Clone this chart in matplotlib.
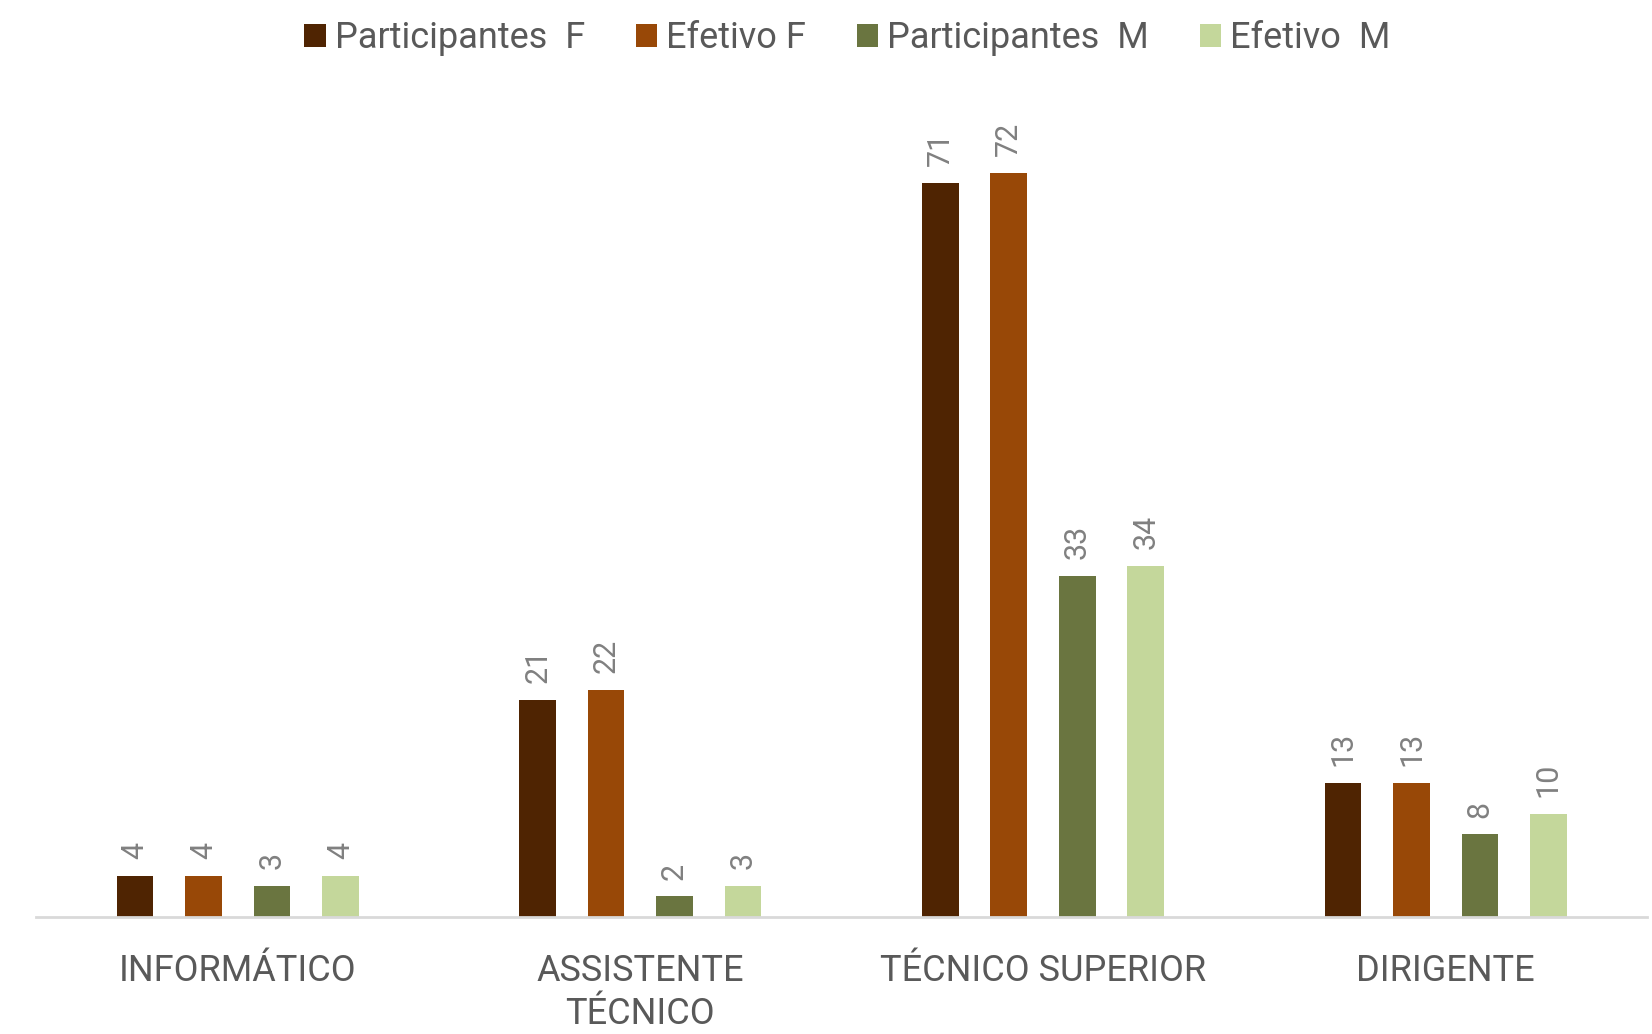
import numpy as np
import matplotlib
matplotlib.use('Agg')
import matplotlib.pyplot as plt

plt.rcParams['font.family'] = ['Roboto', 'DejaVu Sans']

categorias = ['INFORMÁTICO', 'ASSISTENTE\nTÉCNICO', 'TÉCNICO SUPERIOR', 'DIRIGENTE']
series = ['Participantes  F', 'Efetivo F', 'Participantes  M', 'Efetivo  M']
part_f = [4, 21, 71, 13]
efet_f = [4, 22, 72, 13]
part_m = [3, 2, 33, 8]
efet_m = [4, 3, 34, 10]
cores = ['#4f2402', '#984807', '#6a7540', '#c4d79b']

valores = [part_f, efet_f, part_m, efet_m]

fig = plt.figure(figsize=(16.52, 10.34), dpi=100)
ax = fig.add_axes([0.022, 0.113, 0.975, 0.80])

x = np.arange(len(categorias))
largura = 0.091
passo = 0.17
for i, (nome, vals, cor) in enumerate(zip(series, valores, cores)):
    pos = x + (i - 1.5) * passo
    ax.bar(pos, vals, width=largura, color=cor, label=nome)
    for xb, v in zip(pos, vals):
        ax.annotate(str(v), (xb, v), xytext=(0, 12), textcoords='offset points',
                    rotation=90, ha='center', va='bottom', fontsize=22, color='#808080')

ax.set_xlim(-0.5, 3.5)
ax.set_ylim(0, 80)
ax.set_yticks([])
ax.set_xticks(x)
ax.set_xticklabels(categorias, fontsize=26, color='#595959', linespacing=1.25)
ax.tick_params(axis='x', length=0, pad=26)
for s in ['top', 'right', 'left']:
    ax.spines[s].set_visible(False)
ax.spines['bottom'].set_color('#d9d9d9')
ax.spines['bottom'].set_linewidth(2)

leg = fig.legend(loc='upper center', bbox_to_anchor=(0.513, 1.012), ncol=4, frameon=False,
                 fontsize=26, handlelength=0.6, handleheight=0.6, handletextpad=0.25,
                 columnspacing=1.4)
for t in leg.get_texts():
    t.set_color('#595959')

plt.savefig('out.png', dpi=100)
